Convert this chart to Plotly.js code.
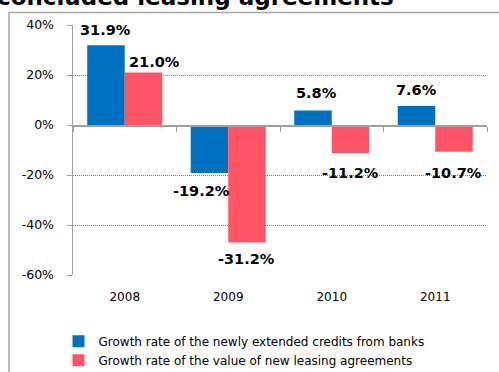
<!DOCTYPE html>
<html>
<head>
<meta charset="utf-8">
<script src="https://cdn.plot.ly/plotly-3.0.1.min.js"></script>
<style>html,body{margin:0;padding:0;background:#fff;}#chart{width:499px;height:372px;}</style>
</head>
<body>
<div id="chart"></div>
<script>
// ---- data ----
const years = ['2008', '2009', '2010', '2011'];
const creditsName = 'Growth rate of the newly extended credits from banks';
const leasingName = 'Growth rate of the value of new leasing agreements';
const creditsValues = [31.9, -19.2, 5.8, 7.6];
const leasingValues = [21.0, -47.0, -11.2, -10.7];
const creditsLabels = ['31.9%', '-19.2%', '5.8%', '7.6%'];
const leasingLabels = ['21.0%', '-31.2%', '-11.2%', '-10.7%'];
const yTickVals = [-60, -40, -20, 0, 20, 40];
const yTickText = ['-60%', '-40%', '-20%', '0%', '20%', '40%'];
const titleText = 'concluded leasing agreements';

// ---- style ----
const blue = '#0070C0';
const red = '#FF5466';
const grey = '#A0A0A0';
const labelFont = {family: 'DejaVu Sans', size: 14.5, color: '#000', weight: 'bold'};
const barHalf = 18.7; // px offset of each bar from category centre
// per-label pixel nudges (x, y) relative to the bar end
const creditsShift = [[-1, 15], [-8.5, -17.5], [3, 17.5], [0, 16]];
const leasingShift = [[11.5, 10.5], [0, -16], [0, -20], [0, -21]];

const traces = [
  {type: 'bar', name: creditsName, x: years, y: creditsValues,
   marker: {color: blue, line: {width: 0}}, hoverinfo: 'none'},
  {type: 'bar', name: leasingName, x: years, y: leasingValues,
   marker: {color: red, line: {width: 0}}, hoverinfo: 'none'}
];

const annotations = [];
years.forEach((yr, i) => {
  annotations.push({x: i, y: creditsValues[i], xref: 'x', yref: 'y', text: creditsLabels[i],
    showarrow: false, font: labelFont, xanchor: 'center', yanchor: 'middle',
    xshift: -barHalf + creditsShift[i][0], yshift: creditsShift[i][1]});
  annotations.push({x: i, y: leasingValues[i], xref: 'x', yref: 'y', text: leasingLabels[i],
    showarrow: false, font: labelFont, xanchor: 'center', yanchor: 'middle',
    xshift: barHalf + leasingShift[i][0], yshift: leasingShift[i][1]});
});
annotations.push({x: -0.188, y: 1.05, xref: 'paper', yref: 'paper', text: titleText,
  showarrow: false, xanchor: 'left', yanchor: 'bottom',
  font: {family: 'DejaVu Sans', size: 23, color: '#000', weight: 'bold'}});

const layout = {
  width: 499, height: 372,
  margin: {l: 73, r: 12, t: 24.5, b: 97, pad: 0, autoexpand: false},
  paper_bgcolor: '#fff', plot_bgcolor: '#fff',
  font: {family: 'DejaVu Sans', size: 12, color: '#000'},
  barmode: 'group', bargap: 0.275, bargroupgap: 0,
  showlegend: true,
  legend: {orientation: 'v', x: -0.035, y: -0.207, xanchor: 'left', yanchor: 'top',
    font: {family: 'DejaVu Sans', size: 12, color: '#000'}, tracegroupgap: 0,
    itemwidth: 30, bgcolor: 'rgba(0,0,0,0)'},
  xaxis: {type: 'category', anchor: 'free', position: 0.6, showline: true, linecolor: grey,
    linewidth: 1.5, ticks: 'outside', tickson: 'boundaries', ticklen: 5, tickcolor: grey,
    showgrid: false, zeroline: false,
    tickfont: {family: 'DejaVu Sans', size: 12, color: '#000'}, ticklabelstandoff: 160,
    fixedrange: true},
  yaxis: {range: [-60, 40], tickvals: yTickVals, ticktext: yTickText, showline: true,
    linecolor: grey, linewidth: 1.5, ticks: 'outside', ticklen: 5, tickcolor: grey,
    showgrid: true, gridcolor: '#808080', gridwidth: 1, griddash: '1px,1px', zeroline: false,
    tickfont: {family: 'DejaVu Sans', size: 12.5, color: '#000'}, ticklabelstandoff: 10,
    fixedrange: true},
  shapes: [{type: 'rect', xref: 'paper', yref: 'paper', x0: -0.1546, x1: 1.2, y0: -0.6, y1: 1.0499,
    line: {color: '#A6A6A6', width: 1.5}, fillcolor: 'rgba(0,0,0,0)', layer: 'below'}],
  annotations: annotations
};

Plotly.newPlot('chart', traces, layout, {displayModeBar: false, staticPlot: true});
</script>
</body>
</html>
